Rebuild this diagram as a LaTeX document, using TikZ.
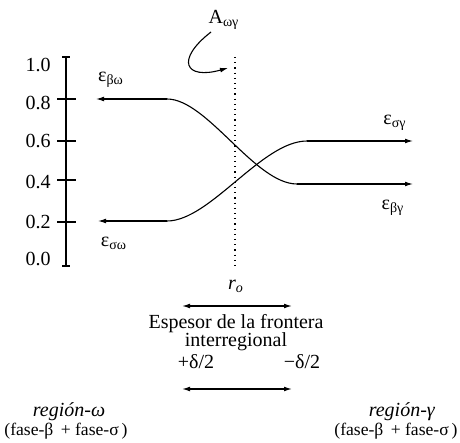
\documentclass[tikz,border=0pt]{standalone}
\usepackage{fontspec}
\setmainfont{Liberation Serif}
\usetikzlibrary{arrows.meta}

\newcommand{\ind}[1]{\textsubscript{#1}}

\begin{document}
\begin{tikzpicture}[
  x=0.5pt, y=-0.5pt,
  font=\normalsize,
  eje/.style={line width=0.7pt},
  curva/.style={line width=0.55pt, -{Latex[length=4pt,width=2.4pt]}},
  cota/.style={line width=0.6pt, {Latex[length=4pt,width=2.4pt]}-{Latex[length=4pt,width=2.4pt]}},
  etiq/.style={inner sep=0pt},
  fase/.style={etiq, font=\fontsize{8.8}{10}\selectfont},
]
\useasboundingbox (0,0) rectangle (460,443);
% eje vertical y sus marcas
\coordinate (eje-top) at (66,57);
\coordinate (eje-bot) at (66,266);
\draw[eje] (eje-top) -- (eje-bot);
\draw[eje] (62,57) -- (70,57);
\draw[eje] (62,266) -- (70,266);
\foreach \yy in {99, 141, 180, 222}
  \draw[eje] (57,\yy) -- (76,\yy);
\foreach \val/\ly in {1.0/65, 0.8/103, 0.6/141, 0.4/182, 0.2/222, 0.0/259}
  \node[etiq] (v-\val) at (38,\ly) {\val};
% la superficie divisoria
\coordinate (ro-top) at (235,57);
\coordinate (ro-bot) at (235,266);
\draw[dotted, line width=0.6pt] (ro-top) -- (ro-bot);
\node[etiq] (aog) at (224,20) {A\ind{ωγ}};
\coordinate (aog-ini) at (211,32);
\coordinate (aog-fin) at (228,68);
\draw[curva] (aog-ini) .. controls (175,60) and (185,80) .. (aog-fin);
% perfiles de fraccion volumetrica
\coordinate (bw-i) at (167,99);
\coordinate (bw-f) at (96,99);
\coordinate (bg-i) at (297,184);
\coordinate (bg-f) at (413,184);
\coordinate (sw-i) at (167,221);
\coordinate (sw-f) at (98,221);
\coordinate (sg-i) at (307,141);
\coordinate (sg-f) at (413,141);
\draw[curva] (bw-i) -- (bw-f);
\draw[line width=0.55pt] (bw-i) .. controls (207,99) and (255,184) .. (bg-i);
\draw[curva] (bg-i) -- (bg-f);
\draw[curva] (sw-i) -- (sw-f);
\draw[line width=0.55pt] (sw-i) .. controls (210,221) and (262,141) .. (sg-i);
\draw[curva] (sg-i) -- (sg-f);
\node[etiq] (l-bw) at (111,80) {ε\ind{βω}};
\node[etiq] (l-sg) at (395,123) {ε\ind{σγ}};
\node[etiq] (l-bg) at (393,208) {ε\ind{βγ}};
\node[etiq] (l-sw) at (114,243) {ε\ind{σω}};
% espesor de la frontera
\node[etiq] (ro) at (236,286) {\textit{r}\ind{\textit{o}}};
\coordinate (c1-i) at (182,306);
\coordinate (c1-f) at (292,306);
\draw[cota] (c1-i) -- (c1-f);
\node[etiq] (esp1) at (236,324) {Espesor de la frontera};
\node[etiq] (esp2) at (236,342) {interregional};
\node[etiq] (mas) at (196,362) {+δ/2};
\node[etiq] (menos) at (302,362) {−δ/2};
\coordinate (c2-i) at (182,389);
\coordinate (c2-f) at (292,389);
\draw[cota] (c2-i) -- (c2-f);
% regiones
\node[etiq] (rw) at (69,412) {\textit{región-ω}};
\node[fase] (fw) at (66,431) {(fase-β\, + fase-σ\,)};
\node[etiq] (rg) at (402,412) {\textit{región-γ}};
\node[fase] (fg) at (396,431) {(fase-β\, + fase-σ\,)};
\end{tikzpicture}
\end{document}
